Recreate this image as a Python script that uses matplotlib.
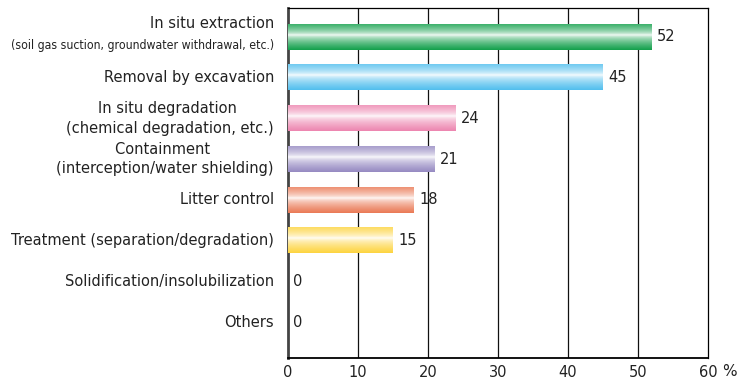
import numpy as np
import matplotlib
matplotlib.use("Agg")
import matplotlib.pyplot as plt
from matplotlib.colors import to_rgb
import matplotlib.transforms as mtransforms

# data
categories = ["In situ extraction",
              "Removal by excavation",
              "In situ degradation \n(chemical degradation, etc.)",
              "Containment \n(interception/water shielding)",
              "Litter control",
              "Treatment (separation/degradation)",
              "Solidification/insolubilization",
              "Others"]
sub_label = "(soil gas suction, groundwater withdrawal, etc.)"
values = [52, 45, 24, 21, 18, 15, 0, 0]
bar_colors = ["#13a04c", "#52bfee", "#ed86b0", "#968ac2", "#ea7a56", "#fdd440", "#ffffff", "#ffffff"]
xticks = [0, 10, 20, 30, 40, 50, 60]

fig = plt.figure(figsize=(7.42, 3.81), dpi=100)
ax = fig.add_axes([288/742, 23/381, 420/742, 350/381])

bar_h = 0.62
t = np.linspace(0, 1, 64)
prof = np.clip(np.abs(t - 0.42) / 0.58, 0, 1) ** 0.6
for i, (v, c) in enumerate(zip(values, bar_colors)):
    if v <= 0:
        continue
    base = np.array(to_rgb(c))
    img = (1 - prof)[:, None] * np.ones(3) + prof[:, None] * base
    img = img[:, None, :]
    ax.imshow(img, extent=[0, v, i + bar_h/2, i - bar_h/2], aspect="auto",
              interpolation="bilinear", zorder=3)

ax.set_xlim(0, 60)
ax.set_ylim(7.88, -0.71)
ax.set_xticks(xticks)
ax.set_xticklabels([str(x) for x in xticks], fontsize=10.5, color="#222222")
ax.tick_params(axis="x", length=0, pad=5)
ax.set_yticks([])
for x in xticks[1:-1]:
    ax.axvline(x, color="#111111", lw=0.9, zorder=1)
for s in ["top", "right"]:
    ax.spines[s].set_linewidth(0.9)
ax.spines["left"].set_linewidth(2.0)
ax.spines["left"].set_color("#444444")
ax.spines["bottom"].set_linewidth(1.3)

# value labels
off = mtransforms.offset_copy(ax.transData, fig=fig, x=5, y=0, units="dots")
for i, v in enumerate(values):
    ax.text(v, i, str(v), transform=off, ha="left", va="center",
            fontsize=10.5, color="#222222", zorder=4)

# category labels
lab_t = mtransforms.blended_transform_factory(ax.transAxes, ax.transData)
lab_t = lab_t + mtransforms.ScaledTranslation(-14/100, 0, fig.dpi_scale_trans)
ax.text(0, -0.32, categories[0], transform=lab_t, ha="right", va="center",
        fontsize=10.5, color="#222222")
ax.text(0, 0.2, sub_label, transform=lab_t, ha="right", va="center",
        fontsize=8.85, color="#222222", family="DejaVu Sans", fontstretch="condensed")
for i, name in enumerate(categories[1:], start=1):
    ax.text(0, i, name, transform=lab_t, ha="right", va="center",
            multialignment="center", fontsize=10.5, color="#222222",
            linespacing=1.35)

fig.text(722/742, 2/381, "%", ha="left", va="bottom", fontsize=11, color="#222222")

fig.savefig("out.png", dpi=100)
